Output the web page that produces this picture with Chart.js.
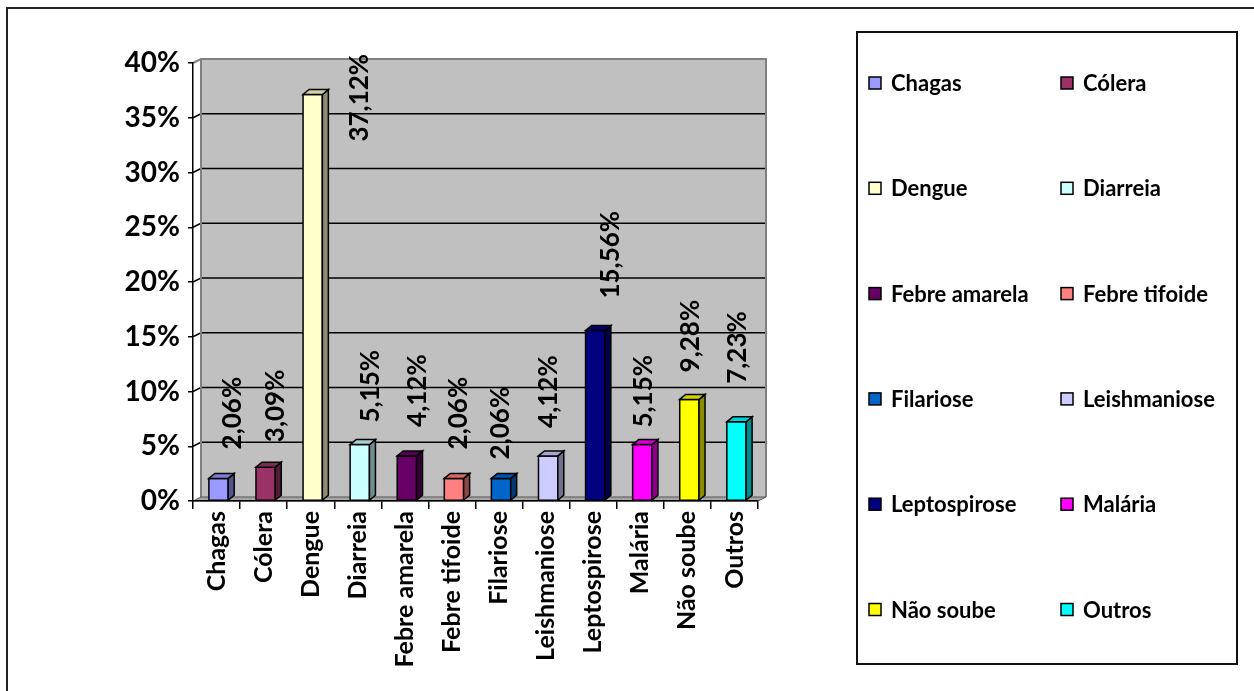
<!DOCTYPE html>
<html>
<head>
<meta charset="utf-8">
<script src="https://cdn.jsdelivr.net/npm/chart.js@4.4.1/dist/chart.umd.min.js"></script>
<style>
  html, body { margin: 0; padding: 0; background: #fff; }
  canvas { display: block; }
</style>
</head>
<body>
<canvas id="chart" width="1254" height="691"></canvas>
<script>
// Doenças citadas (% das respostas)
const categories = ['Chagas', 'Cólera', 'Dengue', 'Diarreia', 'Febre amarela', 'Febre tifoide',
  'Filariose', 'Leishmaniose', 'Leptospirose', 'Malária', 'Não soube', 'Outros'];
const percentages = [2.06, 3.09, 37.12, 5.15, 4.12, 2.06, 2.06, 4.12, 15.56, 5.15, 9.28, 7.23];
const barColors = ['#9999FF', '#993366', '#FFFFCC', '#CCFFFF', '#660066', '#FF8080',
  '#0066CC', '#CCCCFF', '#000080', '#FF00FF', '#FFFF00', '#00FFFF'];
const yTickValues = [0, 5, 10, 15, 20, 25, 30, 35, 40];

const FONT = 'Lato, "Open Sans", "DejaVu Sans", sans-serif';
const WALL = { dx: 8, dy: -4 };       // depth of the back wall
const BAR_DEPTH = { dx: 6, dy: -5 };  // depth of each column
const BAR_SHIFT = 2;                  // columns sit slightly into the depth
// per-label nudges (px) relative to the top of its column
const labelShiftX = [13, 9, 46, 10, 10, 4, -1, -1, 14, 0, 0, 0];
const labelGap = [29, 25, -47, 22, 29, 29, 19, 28, 32, 17, 27, 38];

function shade(hex, f) {
  const n = parseInt(hex.slice(1), 16);
  const r = (n >> 16) & 255, g = (n >> 8) & 255, b = n & 255;
  return `rgb(${Math.round(r * f)},${Math.round(g * f)},${Math.round(b * f)})`;
}
function fmt(v) { return v.toFixed(2).replace('.', ',') + '%'; }

function polygon(ctx, pts, fill, stroke, lw) {
  ctx.beginPath();
  ctx.moveTo(pts[0][0], pts[0][1]);
  for (let i = 1; i < pts.length; i++) ctx.lineTo(pts[i][0], pts[i][1]);
  ctx.closePath();
  if (fill) { ctx.fillStyle = fill; ctx.fill(); }
  if (stroke) { ctx.strokeStyle = stroke; ctx.lineWidth = lw || 1; ctx.stroke(); }
}
function seg(ctx, x1, y1, x2, y2) {
  ctx.beginPath(); ctx.moveTo(x1, y1); ctx.lineTo(x2, y2); ctx.stroke();
}

const scenePlugin = {
  id: 'scene3d',
  beforeDraw(chart) {
    const ctx = chart.ctx;
    const { left, right, top, bottom } = chart.chartArea;
    const y = chart.scales.y;
    ctx.save();
    ctx.fillStyle = '#fff';
    ctx.fillRect(0, 0, chart.width, chart.height);

    // outer frame
    ctx.strokeStyle = '#222';
    ctx.lineWidth = 2;
    ctx.beginPath();
    ctx.moveTo(7, chart.height); ctx.lineTo(7, 8); ctx.lineTo(chart.width, 8);
    ctx.stroke();

    // back wall
    const wl = left + WALL.dx, wr = right + WALL.dx, wt = top + WALL.dy, wb = bottom + WALL.dy;
    ctx.fillStyle = '#C0C0C0';
    ctx.fillRect(wl, wt, wr - wl, wb - wt);

    // gridlines on the wall, joined to the axis ticks
    ctx.strokeStyle = '#000';
    ctx.lineWidth = 1.5;
    y.ticks.forEach(t => {
      if (t.value <= y.min || t.value >= y.max) return;
      const py = y.getPixelForValue(t.value);
      seg(ctx, left, py, wl, py + WALL.dy);
      seg(ctx, wl, py + WALL.dy, wr, py + WALL.dy);
    });

    // wall edges
    ctx.strokeStyle = '#808080';
    ctx.lineWidth = 2;
    ctx.beginPath();
    ctx.moveTo(left, top); ctx.lineTo(wl, wt); ctx.lineTo(wr, wt); ctx.lineTo(wr, wb);
    ctx.stroke();
    seg(ctx, wl, wt, wl, wb);

    // floor
    polygon(ctx, [[left, bottom], [right, bottom], [wr, wb], [wl, wb]], '#A6A6A6', '#555', 1);
    ctx.restore();
  },
  afterDatasetsDraw(chart) {
    const ctx = chart.ctx;
    const meta = chart.getDatasetMeta(0);
    ctx.save();
    ctx.lineJoin = 'miter';
    meta.data.forEach((bar, i) => {
      const p = bar.getProps(['x', 'y', 'base', 'width'], true);
      const l = p.x - p.width / 2 + BAR_SHIFT, r = p.x + p.width / 2 + BAR_SHIFT, t = p.y, b = p.base;
      const c = barColors[i];
      // front face
      polygon(ctx, [[l, t], [r, t], [r, b], [l, b]], c, '#000', 1.5);
      // side face
      polygon(ctx, [[r, t], [r + BAR_DEPTH.dx, t + BAR_DEPTH.dy], [r + BAR_DEPTH.dx, b + BAR_DEPTH.dy], [r, b]],
        shade(c, 0.55), '#000', 1.5);
      // top face
      polygon(ctx, [[l, t], [l + BAR_DEPTH.dx, t + BAR_DEPTH.dy], [r + BAR_DEPTH.dx, t + BAR_DEPTH.dy], [r, t]],
        shade(c, 0.82), '#000', 1.5);
    });

    // value labels, rotated
    ctx.fillStyle = '#000';
    ctx.font = `bold 26px ${FONT}`;
    ctx.textAlign = 'left';
    ctx.textBaseline = 'middle';
    meta.data.forEach((bar, i) => {
      const p = bar.getProps(['x', 'y'], true);
      ctx.save();
      ctx.translate(p.x + BAR_SHIFT + labelShiftX[i], p.y - labelGap[i]);
      ctx.rotate(-Math.PI / 2);
      ctx.fillText(fmt(percentages[i]), 0, 1);
      ctx.restore();
    });
    ctx.restore();
  },
  afterDraw(chart) {
    const ctx = chart.ctx;
    const box = { x: 857, y: 32, w: 380, h: 632 };
    ctx.save();
    ctx.strokeStyle = '#111';
    ctx.lineWidth = 2;
    ctx.strokeRect(box.x, box.y, box.w, box.h);
    ctx.font = `bold 22px ${FONT}`;
    ctx.textAlign = 'left';
    ctx.textBaseline = 'middle';
    categories.forEach((name, i) => {
      const col = i % 2, row = Math.floor(i / 2);
      const mx = box.x + 12 + col * 192;
      const my = box.y + 51 + row * 105.3;
      ctx.fillStyle = barColors[i];
      ctx.fillRect(mx, my - 6, 12, 12);
      ctx.strokeStyle = '#000';
      ctx.lineWidth = 1.5;
      ctx.strokeRect(mx, my - 6, 12, 12);
      ctx.fillStyle = '#000';
      ctx.fillText(name, mx + 22, my + 1);
    });
    ctx.restore();
  }
};

new Chart(document.getElementById('chart'), {
  type: 'bar',
  data: {
    labels: categories,
    datasets: [{
      data: percentages,
      // columns are painted by the 3D plugin
      backgroundColor: 'rgba(0,0,0,0)',
      borderWidth: 0,
      barPercentage: 0.41,
      categoryPercentage: 1
    }]
  },
  options: {
    responsive: false,
    animation: false,
    devicePixelRatio: 1,
    layout: { padding: { top: 63, right: 496, left: 0, bottom: 0 } },
    plugins: { legend: { display: false }, tooltip: { enabled: false } },
    scales: {
      x: {
        offset: true,
        grid: { display: true, drawOnChartArea: false, drawTicks: true, tickLength: 8, color: '#000', lineWidth: 1.5, offset: true },
        border: { display: true, color: '#000', width: 1.5 },
        ticks: { color: '#000', font: { family: FONT, size: 25, weight: 'bold' }, minRotation: 90, maxRotation: 90, padding: 2, autoSkip: false },
        afterFit(s) { s.height = 190; }
      },
      y: {
        min: 0,
        max: 40,
        afterBuildTicks(s) { s.ticks = yTickValues.map(v => ({ value: v })); },
        grid: { drawOnChartArea: false, drawTicks: true, tickLength: 5, color: '#000', lineWidth: 1.5 },
        border: { display: true, color: '#000', width: 1.5 },
        ticks: { color: '#000', padding: 8, font: { family: FONT, size: 28, weight: 'bold' }, callback: v => v + '%' },
        afterFit(s) { s.width = 193; }
      }
    }
  },
  plugins: [scenePlugin]
});
</script>
</body>
</html>
